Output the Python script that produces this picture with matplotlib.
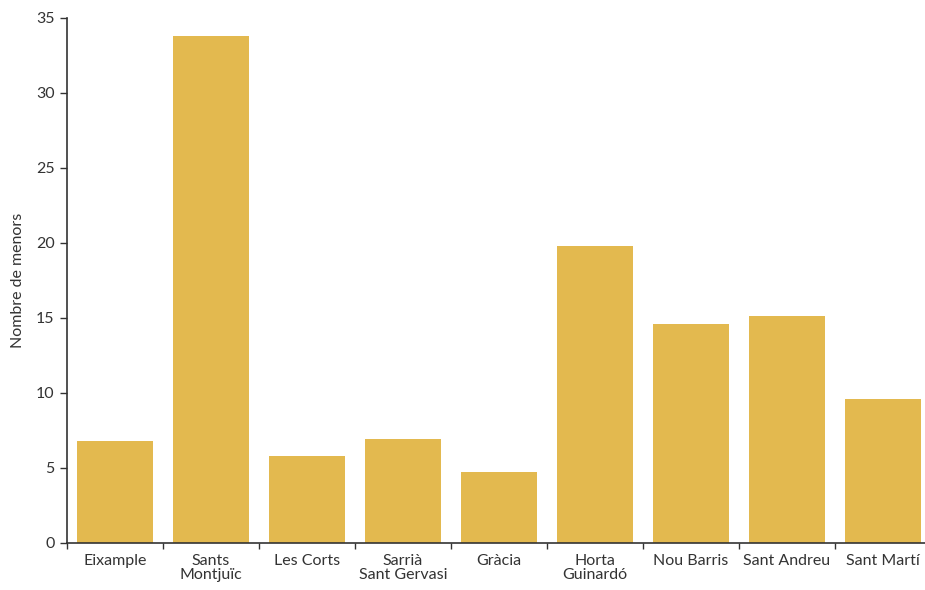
import matplotlib
matplotlib.use("Agg")
import matplotlib.pyplot as plt
import numpy as np

categories = ["Eixample", "Sants\nMontjuïc", "Les Corts", "Sarrià\nSant Gervasi", "Gràcia",
              "Horta\nGuinardó", "Nou Barris", "Sant Andreu", "Sant Martí"]
values = [6.8, 33.8, 5.8, 6.9, 4.75, 19.8, 14.6, 15.1, 9.6]
yticks = [0, 5, 10, 15, 20, 25, 30, 35]

plt.rcParams['font.family'] = ['Lato', 'DejaVu Sans']

fig = plt.figure(figsize=(9.25, 5.9), dpi=100)
ax = fig.add_axes([0.0724, 0.0797, 0.9276, 0.8898])

x = np.arange(len(categories))
ax.bar(x, values, width=0.79, color="#E3B94F", zorder=2)

ax.set_xlim(-0.5, 8.44)
ax.set_ylim(0, 35)
ax.set_yticks(yticks)
ax.set_yticklabels([str(t) for t in yticks], fontsize=11.5, color="#333333")

ax.set_xticks(x)
ax.set_xticklabels(categories, fontsize=11.5, color="#333333", linespacing=0.95)
ax.tick_params(axis='x', length=0, pad=8)
ax.set_xticks(np.arange(-0.5, 8.5, 1.0), minor=True)
ax.tick_params(axis='x', which='minor', length=4, width=1.0, color="#333333", direction='out')
ax.tick_params(axis='y', length=5, width=1.0, color="#333333", direction='out', pad=4)

for s in ['top', 'right']:
    ax.spines[s].set_visible(False)
for s in ['left', 'bottom']:
    ax.spines[s].set_color("#333333")
    ax.spines[s].set_linewidth(1.2)

ax.set_ylabel("Nombre de menors", fontsize=11.5, color="#333333", labelpad=8)

fig.savefig("out.png", dpi=100)
